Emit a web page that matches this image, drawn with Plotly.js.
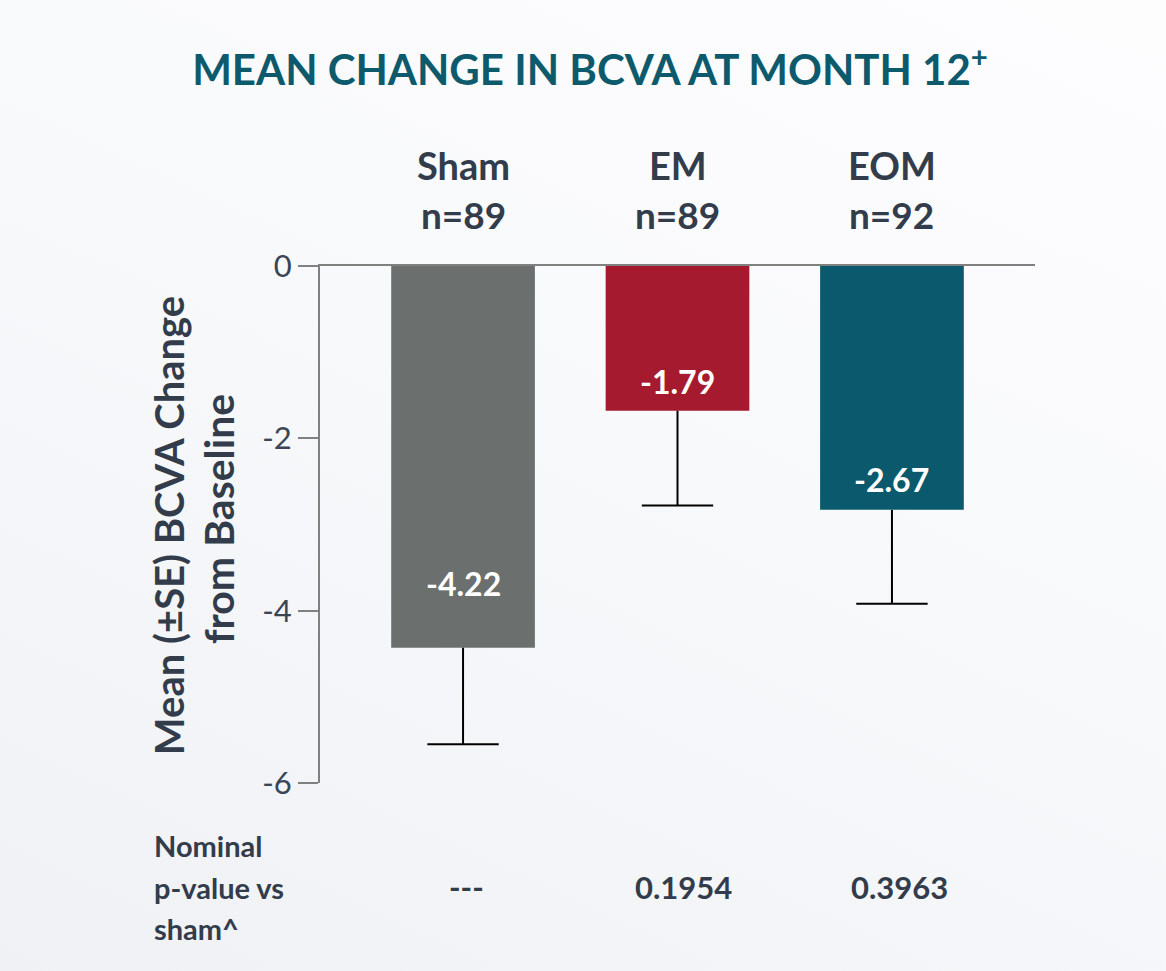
<!DOCTYPE html>
<html><head><meta charset="utf-8">
<script src="https://cdn.plot.ly/plotly-3.0.1.min.js"></script>
<style>
html,body{margin:0;padding:0;}
body{width:1166px;height:971px;overflow:hidden;background:linear-gradient(205deg,#fdfdfe 0%,#f8f9fb 45%,#eff1f4 100%);}
#chart{width:1166px;height:971px;}
</style></head><body><div id="chart"></div>
<script>
// ---- data ----
const categories = ['Sham', 'EM', 'EOM'];
const nLabels = ['n=89', 'n=89', 'n=92'];
const barValues = [-4.43, -1.68, -2.83];
const seMinus = [1.12, 1.10, 1.09];
const valueLabels = ['-4.22', '-1.79', '-2.67'];
const pValues = ['---', '0.1954', '0.3963'];
const yTickVals = [0, -2, -4, -6];
const yTickText = ['0', '-2', '-4', '-6'];
const rowLabels = ['Nominal', 'p-value vs', 'sham^'];

// ---- styles / positions ----
const barColors = ['#6b706f', '#a61a2f', '#0b596c'];
const labelY = [-3.68, -1.34, -2.48];
const pShift = [3, 6, 8];
const rowY = [-0.1206, -0.2017, -0.281];
const FONT = 'Lato, "Open Sans", sans-serif';
const TXT = '#323c4a';

const bars = {
  type: 'bar',
  x: categories,
  y: barValues,
  marker: {color: barColors, line: {width: 0}},
  error_y: {type: 'data', symmetric: false, array: [0, 0, 0], arrayminus: seMinus,
            color: '#000', thickness: 2, width: 0},
  hoverinfo: 'none',
  showlegend: false
};
const caps = {
  type: 'scatter',
  mode: 'markers',
  x: categories,
  y: barValues.map((v, i) => v - seMinus[i]),
  marker: {symbol: 'line-ew', size: 51, color: '#000', line: {width: 2, color: '#000'}},
  hoverinfo: 'none',
  showlegend: false
};

const annotations = [];
categories.forEach((c, i) => {
  annotations.push({x: c, xref: 'x', y: 1.1955, yref: 'paper', text: '<b>' + c + '</b>',
    showarrow: false, xanchor: 'center', yanchor: 'middle', font: {family: FONT, size: 38, color: TXT}});
  annotations.push({x: c, xref: 'x', y: 1.099, yref: 'paper', text: '<b>' + nLabels[i] + '</b>',
    showarrow: false, xanchor: 'center', yanchor: 'middle', font: {family: FONT, size: 37, color: TXT}});
  annotations.push({x: c, xref: 'x', y: labelY[i], yref: 'y', text: '<b>' + valueLabels[i] + '</b>',
    showarrow: false, xanchor: 'center', yanchor: 'middle', font: {family: FONT, size: 32, color: '#ffffff'}});
  annotations.push({x: c, xref: 'x', xshift: pShift[i], y: rowY[1], yref: 'paper', text: '<b>' + pValues[i] + '</b>',
    showarrow: false, xanchor: 'center', yanchor: 'middle', font: {family: FONT, size: 31, color: TXT}});
});
rowLabels.forEach((t, i) => {
  annotations.push({x: -0.235, xref: 'paper', y: rowY[i], yref: 'paper', text: '<b>' + t + '</b>',
    showarrow: false, xanchor: 'left', yanchor: 'middle', align: 'left', font: {family: FONT, size: 29, color: TXT}});
});
annotations.push({x: -0.2112, xref: 'paper', y: 0.4987, yref: 'paper', text: '<b>Mean (\u00B1SE) BCVA Change</b>',
  textangle: -90, showarrow: false, xanchor: 'center', yanchor: 'middle', font: {family: FONT, size: 40, color: TXT}});
annotations.push({x: -0.1427, xref: 'paper', y: 0.5104, yref: 'paper', text: '<b>from Baseline</b>',
  textangle: -90, showarrow: false, xanchor: 'center', yanchor: 'middle', font: {family: FONT, size: 41, color: TXT}});

const layout = {
  width: 1166, height: 971,
  margin: {l: 320, r: 131, t: 266, b: 188.3, pad: 0},
  paper_bgcolor: 'rgba(0,0,0,0)',
  plot_bgcolor: 'rgba(0,0,0,0)',
  title: {text: '<b>MEAN CHANGE IN BCVA AT MONTH 12<sup>+</sup></b>', x: 0.506, xanchor: 'center',
          y: 1 - 70 / 971, yref: 'container', yanchor: 'middle',
          font: {family: FONT, size: 42, color: '#0d5a6c'}},
  bargap: 0.33,
  xaxis: {type: 'category', range: [-0.667, 2.667], side: 'top', showline: true, linecolor: '#808080',
          linewidth: 2, ticks: '', showticklabels: false, showgrid: false, zeroline: false, fixedrange: true},
  yaxis: {range: [-6, 0], showline: true, linecolor: '#808080', linewidth: 2, ticks: 'outside',
          ticklen: 20, tickwidth: 2, tickcolor: '#808080', tickvals: yTickVals, ticktext: yTickText,
          tickfont: {family: FONT, size: 31, color: '#3a4556'}, showgrid: false, zeroline: false, fixedrange: true},
  annotations: annotations
};

Plotly.newPlot('chart', [bars, caps], layout, {displayModeBar: false, staticPlot: true});
</script>
</body></html>
